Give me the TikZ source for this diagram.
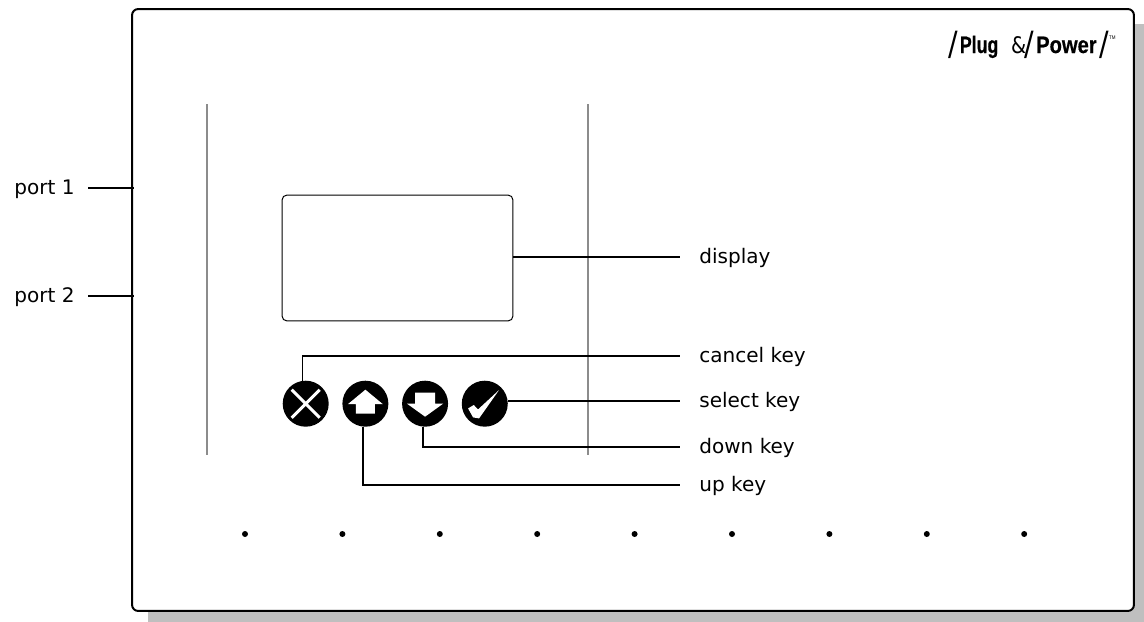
\documentclass[tikz,border=0pt]{standalone}
\usepackage{fontspec}
\setmainfont{DejaVu Sans}
\newfontfamily\logofont[BoldFeatures={FakeBold=0.6}]{Liberation Sans}
\newfontfamily\logothin[UprightFont=* ExtraLight]{DejaVu Sans}
\usetikzlibrary{positioning}
\newcommand{\logoslash}{\raisebox{-1.5pt}{\logothin\fontsize{19pt}{19pt}\selectfont /}}

\begin{document}
\begin{tikzpicture}[
        x=0.02cm, y=-0.02cm,
        frame_box/.style={draw=black, fill=white, line width=0.04cm, rounded corners=0.12cm, minimum width=20.04cm, minimum height=12.04cm, inner sep=0pt},
        shadow_box/.style={fill=black!25},
        rib_line/.style={draw=black!45, line width=0.025cm},
        display_box/.style={draw=black, fill=white, line width=0.02cm, rounded corners=0.1cm, minimum width=4.62cm, minimum height=2.52cm, inner sep=0pt},
        key_node/.style={circle, fill=black, minimum size=0.92cm, inner sep=0pt},
        key_mark/.style={fill=white},
        dot_node/.style={circle, fill=black, minimum size=0.12cm, inner sep=0pt},
        label_node/.style={anchor=west, font=\fontsize{11.4pt}{13pt}\selectfont, inner xsep=0.38cm, inner ysep=0pt, text height=1.6ex, text depth=0.2ex},
        port_node/.style={anchor=west, font=\fontsize{11.4pt}{13pt}\selectfont, inner xsep=0pt, inner ysep=0pt, text height=1.6ex, text depth=0.2ex},
        lead_line/.style={draw=black, line width=0.035cm}
        ]
            \useasboundingbox (0,0) rectangle (1144,622);

            % Case
            \fill[shadow_box] (148,24) rectangle (1144,622);
            \node[frame_box] (frame) at (633,310) {};
            \draw[rib_line] (207,104) -- (207,455);
            \draw[rib_line] (588,104) -- (588,455);

            % logo
            \node[anchor=base east, inner sep=0pt, font=\logofont\bfseries\fontsize{13.5pt}{16pt}\selectfont, xscale=0.85] (logo) at (1116,53) {\logoslash\kern1.5pt\scalebox{0.88}[1]{Plug}\kern8.5pt{\logothin\fontsize{13pt}{13pt}\selectfont\&}\kern-1pt\logoslash\kern1.3pt Power\kern2pt\logoslash\raisebox{1.1ex}{\fontsize{3pt}{3pt}\selectfont\mdseries TM}};

            % display and keys
            \node[display_box] (display) at (397.5,258) {};
            \node[key_node] (key_cancel) at (305.7,403.7) {};
            \node[key_node] (key_up)     [right = 0.26cm of key_cancel] {};
            \node[key_node] (key_down)   [right = 0.26cm of key_up] {};
            \node[key_node] (key_select) [right = 0.26cm of key_down] {};

            % key marks
            \draw[white, line width=0.06cm, shift={(key_cancel)}] (-14,-14) -- (14,14) (-14,14) -- (14,-14);
            \fill[key_mark, shift={(key_up)}] (0,-14) -- (17.5,0.5) -- (9.5,0.5) -- (9.5,10) -- (-9.5,10) -- (-9.5,0.5) -- (-17.5,0.5) -- cycle;
            \fill[key_mark, shift={(key_down)}] (0,13) -- (18,0) -- (10,0) -- (10,-11) -- (-10,-11) -- (-10,0) -- (-18,0) -- cycle;
            \fill[key_mark, shift={(key_select)}] (-16.7,4.7) -- (-11,1.3) -- (-6.7,5.7) -- (14.3,-13.7) -- (-5.7,14.7) -- (-11.7,13.7) -- cycle;

            % labels
            \node[label_node] (label_display) at (680,257) {display};
            \node[label_node] (label_cancel)  at (680,356) {cancel key};
            \node[label_node] (label_select)  at (680,401) {select key};
            \node[label_node] (label_down)    at (680,447) {down key};
            \node[label_node] (label_up)      at (680,485) {up key};
            \node[port_node]  (port_1)        at (14,188) {port 1};
            \node[port_node]  (port_2)        at (14,296) {port 2};
            \coordinate (port_1_end) at (88,188);
            \coordinate (port_2_end) at (88,296);

            % Lines
            \draw[lead_line] (display.east |- label_display) -- (label_display);
            \draw[lead_line] (key_cancel.98) |- (label_cancel);
            \draw[lead_line] (key_select) ++(23,-2.7) coordinate (select_end) -- (label_select);
            \draw[lead_line] (key_down.265) |- (label_down);
            \draw[lead_line] (key_up.265) |- (label_up);
            \draw[lead_line, shorten >=-0.06cm] (port_1_end) -- (port_1_end -| frame.west);
            \draw[lead_line, shorten >=-0.06cm] (port_2_end) -- (port_2_end -| frame.west);

            % dots
            \foreach \i in {0,...,8} {
                \node[dot_node] (dot_\i) at (245+97.4*\i,534) {};
            }
\end{tikzpicture}
\end{document}
